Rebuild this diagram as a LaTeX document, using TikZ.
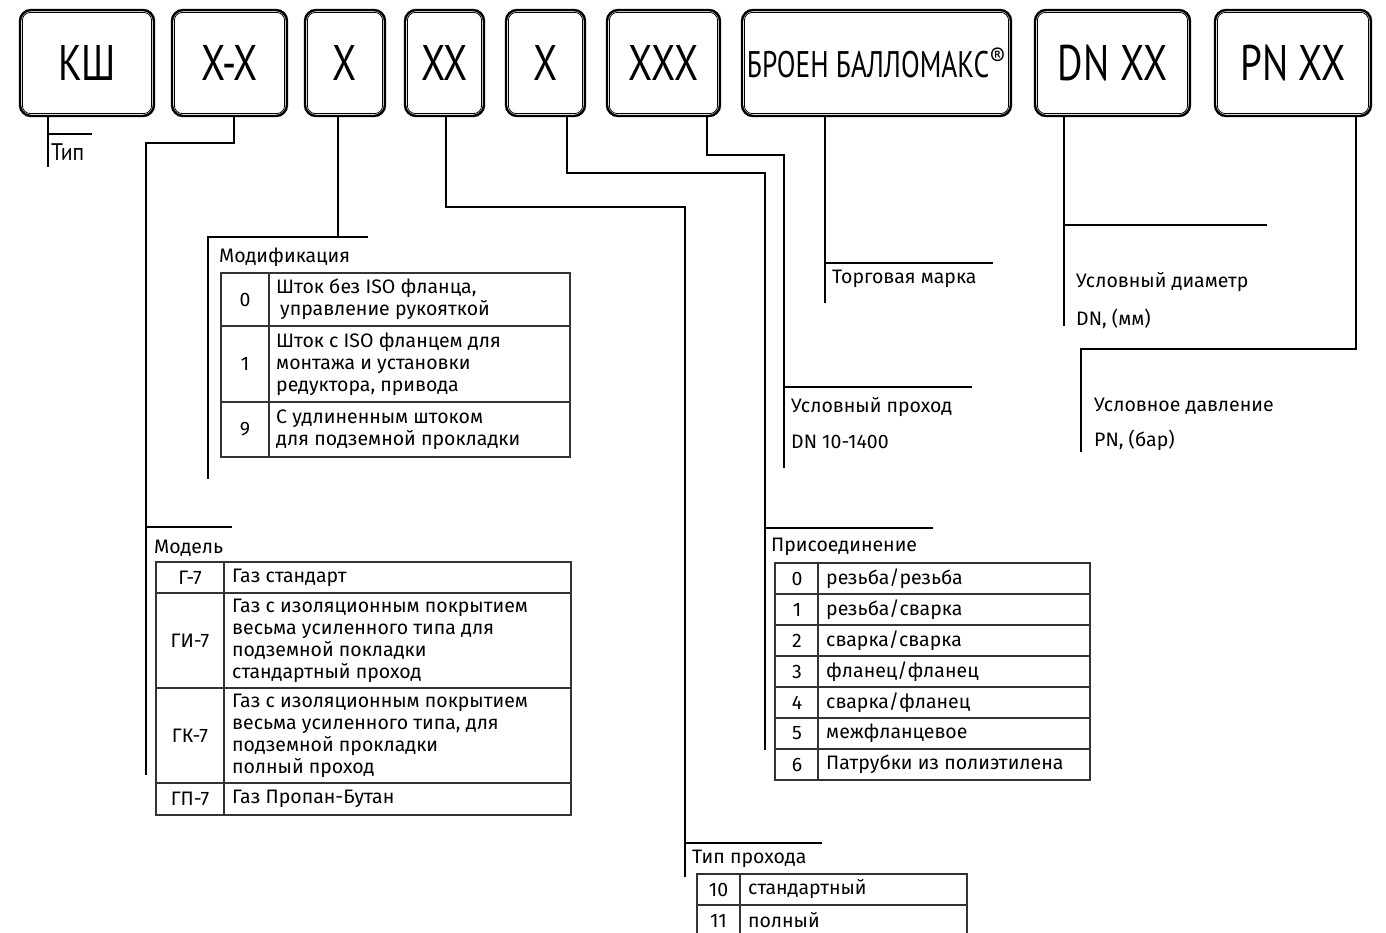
\documentclass[tikz,border=0pt]{standalone}
\usepackage{fontspec}
\setmainfont{Fira Sans}
\newfontfamily\boxfont{PT Sans}
\usepackage{graphicx}
\usetikzlibrary{calc,positioning}
\newcommand{\cond}[1]{\scalebox{0.78}[1]{#1}}

\begin{document}
\begin{tikzpicture}[x=1pt,y=-1pt,
  codebox/.style={draw,line width=2.4pt,rounded corners=11pt,inner sep=0pt,
    minimum height=106,font=\boxfont\fontsize{50}{50}\selectfont},
  innerline/.style={line width=0.8pt,rounded corners=8pt},
  lead/.style={line width=1.1pt},
  tbl/.style={line width=1.3pt,black!80},
  lbl/.style={inner sep=0pt,anchor=west,align=left,font=\fontsize{19.5}{22}\selectfont},
  num/.style={inner sep=0pt,font=\fontsize{19.5}{22}\selectfont}]
  \clip (0,0) rectangle (1386,933);

  % code boxes
  \node[codebox,minimum width=134] (kind)  at (87,63)    {\cond{КШ}};
  \node[codebox,minimum width=115] (model) at (229.5,63) {\cond{X-X}};
  \node[codebox,minimum width=80]  (modif) at (345,63)   {\cond{X}};
  \node[codebox,minimum width=79]  (pass)  at (444.5,63) {\cond{XX}};
  \node[codebox,minimum width=79]  (conn)  at (545.5,63) {\cond{X}};
  \node[codebox,minimum width=113] (size)  at (663.5,63) {\cond{XXX}};
  \node[codebox,minimum width=269,font=\boxfont\fontsize{37}{37}\selectfont] (brand) at (876.5,63)
    {\scalebox{0.74}[1]{БРОЕН БАЛЛОМАКС\raisebox{0.3em}{\fontsize{26}{26}\selectfont\scalebox{1.25}[1]{®}}}};
  \node[codebox,minimum width=155] (dn)    at (1112.5,63) {\cond{DN XX}};
  \node[codebox,minimum width=156] (pn)    at (1293,63)   {\cond{PN XX}};
  \foreach \b in {kind,model,modif,pass,conn,size,brand,dn,pn}
    \draw[innerline] ($(\b.north west)+(3.6pt,-3.6pt)$) rectangle ($(\b.south east)+(-3.6pt,3.6pt)$);

  % leaders
  \draw[lead] (kind.south -| 48,0) -- (48,167);
  \draw[lead] (48,134) -- (92,134);
  \node[lbl,font=\boxfont\fontsize{24}{24}\selectfont] (tip) at (51,152) {\scalebox{0.9}[1]{Тип}};

  \draw[lead] (model.south -| 234,0) |- (146,143) -- (146,775);
  \draw[lead] (146,527) -- (232,527);
  \node[lbl] (modelhead) at (154,548) {Модель};

  \draw[lead] (modif.south -| 338,0) -- (338,237);
  \draw[lead] (208,479) -- (208,237) -- (368,237);
  \node[lbl] (modifhead) at (219,257) {Модификация};

  \draw[lead] (pass.south -| 446,0) |- (685,207) -- (685,877);
  \draw[lead] (685,843) -- (822,843);
  \node[lbl] (passhead) at (692,859) {Тип прохода};

  \draw[lead] (conn.south -| 567,0) |- (765,173) -- (765,750);
  \draw[lead] (765,528) -- (933,528);
  \node[lbl] (connhead) at (771,547) {Присоединение};

  \draw[lead] (size.south -| 707,0) |- (784,155) -- (784,468);
  \draw[lead] (784,387) -- (972,387);
  \node[lbl] (sizehead) at (791,407) {Условный проход};
  \node[lbl] (sizerange) at (791,442) {DN 10-1400};

  \draw[lead] (brand.south -| 825,0) -- (825,303);
  \draw[lead] (825,263) -- (993,263);
  \node[lbl] (brandhead) at (832,279) {Торговая марка};

  \draw[lead] (dn.south -| 1064,0) -- (1064,326);
  \draw[lead] (1064,225) -- (1267,225);
  \node[lbl] (dnhead) at (1076,282) {Условный диаметр};
  \node[lbl] (dnunit) at (1076,319) {DN, (мм)};

  \draw[lead] (pn.south -| 1356,0) |- (1081,349) -- (1081,452);
  \node[lbl] (pnhead) at (1094,406) {Условное давление};
  \node[lbl] (pnunit) at (1094,440) {PN, (бар)};

  % table: modification
  \draw[tbl] (221,273) rectangle (570,457);
  \draw[tbl] (269,273) -- (269,457);
  \foreach \y in {326,402} \draw[tbl] (221,\y) -- (570,\y);
  \node[num] (m0) at (245,299.5) {0};
  \node[lbl] (m0t) at (276,299.5) {Шток без ISO фланца,\\\hspace{4pt}управление рукояткой};
  \node[num] (m1) at (245,364) {1};
  \node[lbl] (m1t) at (276,364) {Шток с ISO фланцем для\\монтажа и установки\\редуктора, привода};
  \node[num] (m9) at (245,429.5) {9};
  \node[lbl] (m9t) at (276,429.5) {С удлиненным штоком\\для подземной прокладки};

  % table: model
  \draw[tbl] (156,562) rectangle (571,815);
  \draw[tbl] (224,562) -- (224,815);
  \foreach \y in {593,688,783} \draw[tbl] (156,\y) -- (571,\y);
  \node[num] (g7) at (190,577.5) {Г-7};
  \node[lbl] (g7t) at (232,577.5) {Газ стандарт};
  \node[num] (gi7) at (190,640.5) {ГИ-7};
  \node[lbl] (gi7t) at (232,640.5) {Газ с изоляционным покрытием\\весьма усиленного типа для\\подземной покладки\\стандартный проход};
  \node[num] (gk7) at (190,735.5) {ГК-7};
  \node[lbl] (gk7t) at (232,735.5) {Газ с изоляционным покрытием\\весьма усиленного типа, для\\подземной прокладки\\полный проход};
  \node[num] (gp7) at (190,799) {ГП-7};
  \node[lbl] (gp7t) at (232,799) {Газ Пропан-Бутан};

  % table: connection
  \draw[tbl] (775,563) rectangle (1090,780);
  \draw[tbl] (818,563) -- (818,780);
  \foreach \i in {1,...,6} \draw[tbl] (775,563+31*\i) -- (1090,563+31*\i);
  \foreach \n/\t [count=\i from 0] in {0/резьба\slash резьба,1/резьба\slash сварка,
      2/сварка\slash сварка,3/фланец\slash фланец,4/сварка\slash фланец,
      5/межфланцевое,6/Патрубки из полиэтилена} {
    \node[num] (c\n) at (797,578.5+31*\i) {\n};
    \node[lbl] (c\n t) at (826,578.5+31*\i) {\t};
  }

  % table: passage
  \draw[tbl] (697,874) rectangle (967,940);
  \draw[tbl] (740,874) -- (740,940);
  \draw[tbl] (697,905) -- (967,905);
  \node[num] (p10) at (718.5,889.5) {10};
  \node[lbl] (p10t) at (748,889.5) {стандартный};
  \node[num] (p11) at (718.5,920.5) {11};
  \node[lbl] (p11t) at (748,920.5) {полный};
\end{tikzpicture}
\end{document}
